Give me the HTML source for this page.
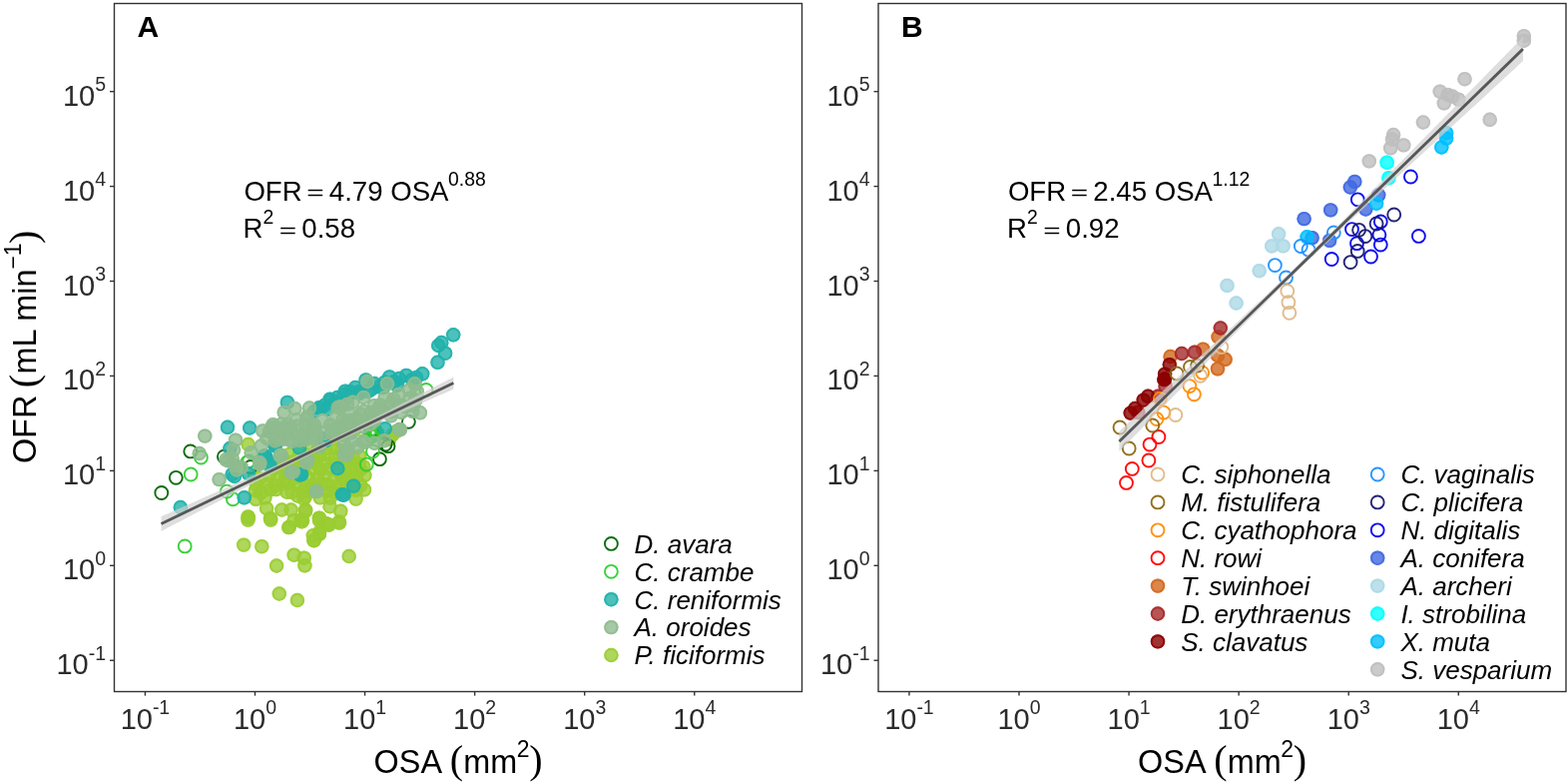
<!DOCTYPE html>
<html><head><meta charset="utf-8"><title>OFR vs OSA</title>
<style>
html,body{margin:0;padding:0;background:#fff;}
body{width:1571px;height:784px;overflow:hidden;position:relative;}
svg{position:absolute;left:0;top:0;}
text{font-family:"Liberation Sans",Arial,sans-serif;}
text.ser{font-family:"Liberation Serif","Times New Roman",serif;}
</style></head><body>
<svg width="1571" height="784" viewBox="0 0 1571 784">
<rect x="0" y="0" width="1571" height="784" fill="#fff"/>
<defs>
<g id="dava"><circle r="6.45" fill="none" stroke="#006400" stroke-width="1.9" stroke-opacity="0.95"/></g>
<g id="cram"><circle r="6.45" fill="none" stroke="#32CD32" stroke-width="1.9" stroke-opacity="0.95"/></g>
<g id="reni"><circle r="7.2" fill="#20B2AA" fill-opacity="0.8"/><circle r="6.2" fill="none" stroke="#20B2AA" stroke-width="2" stroke-opacity="0.8"/></g>
<g id="oroi"><circle r="7.2" fill="#8FBC8F" fill-opacity="0.8"/><circle r="6.2" fill="none" stroke="#8FBC8F" stroke-width="2" stroke-opacity="0.8"/></g>
<g id="fici"><circle r="7.2" fill="#9ACD32" fill-opacity="0.8"/><circle r="6.2" fill="none" stroke="#9ACD32" stroke-width="2" stroke-opacity="0.8"/></g>
<g id="siph"><circle r="6.45" fill="none" stroke="#DEB887" stroke-width="1.9" stroke-opacity="0.95"/></g>
<g id="fist"><circle r="6.45" fill="none" stroke="#8B6914" stroke-width="1.9" stroke-opacity="0.95"/></g>
<g id="cyat"><circle r="6.45" fill="none" stroke="#FF8C00" stroke-width="1.9" stroke-opacity="0.95"/></g>
<g id="rowi"><circle r="6.45" fill="none" stroke="#FF0000" stroke-width="1.9" stroke-opacity="0.95"/></g>
<g id="swin"><circle r="7.2" fill="#D2691E" fill-opacity="0.8"/><circle r="6.2" fill="none" stroke="#D2691E" stroke-width="2" stroke-opacity="0.8"/></g>
<g id="eryt"><circle r="7.2" fill="#A52A2A" fill-opacity="0.8"/><circle r="6.2" fill="none" stroke="#A52A2A" stroke-width="2" stroke-opacity="0.8"/></g>
<g id="clav"><circle r="7.2" fill="#8B0000" fill-opacity="0.8"/><circle r="6.2" fill="none" stroke="#8B0000" stroke-width="2" stroke-opacity="0.8"/></g>
<g id="vagi"><circle r="6.45" fill="none" stroke="#1E90FF" stroke-width="1.9" stroke-opacity="0.95"/></g>
<g id="plic"><circle r="6.45" fill="none" stroke="#191970" stroke-width="1.9" stroke-opacity="0.95"/></g>
<g id="digi"><circle r="6.45" fill="none" stroke="#0000EE" stroke-width="1.9" stroke-opacity="0.95"/></g>
<g id="coni"><circle r="7.2" fill="#4169E1" fill-opacity="0.8"/><circle r="6.2" fill="none" stroke="#4169E1" stroke-width="2" stroke-opacity="0.8"/></g>
<g id="arch"><circle r="7.2" fill="#ADD8E6" fill-opacity="0.8"/><circle r="6.2" fill="none" stroke="#ADD8E6" stroke-width="2" stroke-opacity="0.8"/></g>
<g id="stro"><circle r="7.2" fill="#00FFFF" fill-opacity="0.8"/><circle r="6.2" fill="none" stroke="#00FFFF" stroke-width="2" stroke-opacity="0.8"/></g>
<g id="muta"><circle r="7.2" fill="#00BFFF" fill-opacity="0.8"/><circle r="6.2" fill="none" stroke="#00BFFF" stroke-width="2" stroke-opacity="0.8"/></g>
<g id="vesp"><circle r="7.2" fill="#BEBEBE" fill-opacity="0.8"/><circle r="6.2" fill="none" stroke="#BEBEBE" stroke-width="2" stroke-opacity="0.8"/></g>
</defs>
<rect x="114.5" y="3.5" width="689" height="689" fill="none" stroke="#333" stroke-width="1.4"/>
<line x1="110" x2="114.5" y1="91.65" y2="91.65" stroke="#333" stroke-width="1.4"/>
<text x="95.15" y="105.65" font-size="29.0" text-anchor="end" fill="#2b2b2b">10</text>
<text x="95.15" y="91.45" font-size="19.5" fill="#2b2b2b">5</text>
<line x1="110" x2="114.5" y1="186.58" y2="186.58" stroke="#333" stroke-width="1.4"/>
<text x="95.15" y="200.58" font-size="29.0" text-anchor="end" fill="#2b2b2b">10</text>
<text x="95.15" y="186.38" font-size="19.5" fill="#2b2b2b">4</text>
<line x1="110" x2="114.5" y1="281.51" y2="281.51" stroke="#333" stroke-width="1.4"/>
<text x="95.15" y="295.51" font-size="29.0" text-anchor="end" fill="#2b2b2b">10</text>
<text x="95.15" y="281.31" font-size="19.5" fill="#2b2b2b">3</text>
<line x1="110" x2="114.5" y1="376.44" y2="376.44" stroke="#333" stroke-width="1.4"/>
<text x="95.15" y="390.44" font-size="29.0" text-anchor="end" fill="#2b2b2b">10</text>
<text x="95.15" y="376.24" font-size="19.5" fill="#2b2b2b">2</text>
<line x1="110" x2="114.5" y1="471.37" y2="471.37" stroke="#333" stroke-width="1.4"/>
<text x="95.15" y="485.37" font-size="29.0" text-anchor="end" fill="#2b2b2b">10</text>
<text x="95.15" y="471.17" font-size="19.5" fill="#2b2b2b">1</text>
<line x1="110" x2="114.5" y1="566.30" y2="566.30" stroke="#333" stroke-width="1.4"/>
<text x="95.15" y="580.30" font-size="29.0" text-anchor="end" fill="#2b2b2b">10</text>
<text x="95.15" y="566.10" font-size="19.5" fill="#2b2b2b">0</text>
<line x1="110" x2="114.5" y1="661.23" y2="661.23" stroke="#333" stroke-width="1.4"/>
<text x="88.66" y="675.23" font-size="29.0" text-anchor="end" fill="#2b2b2b">10</text>
<text x="88.66" y="661.03" font-size="19.5" fill="#2b2b2b">-1</text>
<line x1="145.43" x2="145.43" y1="692.5" y2="696.6" stroke="#333" stroke-width="1.4"/>
<text x="120.63" y="729.5" font-size="29.0" fill="#2b2b2b">10</text>
<text x="152.89" y="715.30" font-size="19.5" fill="#2b2b2b">-1</text>
<line x1="255.50" x2="255.50" y1="692.5" y2="696.6" stroke="#333" stroke-width="1.4"/>
<text x="233.95" y="729.5" font-size="29.0" fill="#2b2b2b">10</text>
<text x="266.21" y="715.30" font-size="19.5" fill="#2b2b2b">0</text>
<line x1="365.57" x2="365.57" y1="692.5" y2="696.6" stroke="#333" stroke-width="1.4"/>
<text x="344.02" y="729.5" font-size="29.0" fill="#2b2b2b">10</text>
<text x="376.28" y="715.30" font-size="19.5" fill="#2b2b2b">1</text>
<line x1="475.64" x2="475.64" y1="692.5" y2="696.6" stroke="#333" stroke-width="1.4"/>
<text x="454.09" y="729.5" font-size="29.0" fill="#2b2b2b">10</text>
<text x="486.35" y="715.30" font-size="19.5" fill="#2b2b2b">2</text>
<line x1="585.71" x2="585.71" y1="692.5" y2="696.6" stroke="#333" stroke-width="1.4"/>
<text x="564.16" y="729.5" font-size="29.0" fill="#2b2b2b">10</text>
<text x="596.42" y="715.30" font-size="19.5" fill="#2b2b2b">3</text>
<line x1="695.78" x2="695.78" y1="692.5" y2="696.6" stroke="#333" stroke-width="1.4"/>
<text x="674.23" y="729.5" font-size="29.0" fill="#2b2b2b">10</text>
<text x="706.49" y="715.30" font-size="19.5" fill="#2b2b2b">4</text>
<text x="137.6" y="37" font-size="30" font-weight="bold" fill="#000">A</text>
<rect x="880.0" y="3.5" width="689" height="689" fill="none" stroke="#333" stroke-width="1.4"/>
<line x1="875.5" x2="880.0" y1="91.65" y2="91.65" stroke="#333" stroke-width="1.4"/>
<text x="860.65" y="105.65" font-size="29.0" text-anchor="end" fill="#2b2b2b">10</text>
<text x="860.65" y="91.45" font-size="19.5" fill="#2b2b2b">5</text>
<line x1="875.5" x2="880.0" y1="186.58" y2="186.58" stroke="#333" stroke-width="1.4"/>
<text x="860.65" y="200.58" font-size="29.0" text-anchor="end" fill="#2b2b2b">10</text>
<text x="860.65" y="186.38" font-size="19.5" fill="#2b2b2b">4</text>
<line x1="875.5" x2="880.0" y1="281.51" y2="281.51" stroke="#333" stroke-width="1.4"/>
<text x="860.65" y="295.51" font-size="29.0" text-anchor="end" fill="#2b2b2b">10</text>
<text x="860.65" y="281.31" font-size="19.5" fill="#2b2b2b">3</text>
<line x1="875.5" x2="880.0" y1="376.44" y2="376.44" stroke="#333" stroke-width="1.4"/>
<text x="860.65" y="390.44" font-size="29.0" text-anchor="end" fill="#2b2b2b">10</text>
<text x="860.65" y="376.24" font-size="19.5" fill="#2b2b2b">2</text>
<line x1="875.5" x2="880.0" y1="471.37" y2="471.37" stroke="#333" stroke-width="1.4"/>
<text x="860.65" y="485.37" font-size="29.0" text-anchor="end" fill="#2b2b2b">10</text>
<text x="860.65" y="471.17" font-size="19.5" fill="#2b2b2b">1</text>
<line x1="875.5" x2="880.0" y1="566.30" y2="566.30" stroke="#333" stroke-width="1.4"/>
<text x="860.65" y="580.30" font-size="29.0" text-anchor="end" fill="#2b2b2b">10</text>
<text x="860.65" y="566.10" font-size="19.5" fill="#2b2b2b">0</text>
<line x1="875.5" x2="880.0" y1="661.23" y2="661.23" stroke="#333" stroke-width="1.4"/>
<text x="854.16" y="675.23" font-size="29.0" text-anchor="end" fill="#2b2b2b">10</text>
<text x="854.16" y="661.03" font-size="19.5" fill="#2b2b2b">-1</text>
<line x1="910.93" x2="910.93" y1="692.5" y2="696.6" stroke="#333" stroke-width="1.4"/>
<text x="886.13" y="729.5" font-size="29.0" fill="#2b2b2b">10</text>
<text x="918.39" y="715.30" font-size="19.5" fill="#2b2b2b">-1</text>
<line x1="1021.00" x2="1021.00" y1="692.5" y2="696.6" stroke="#333" stroke-width="1.4"/>
<text x="999.45" y="729.5" font-size="29.0" fill="#2b2b2b">10</text>
<text x="1031.71" y="715.30" font-size="19.5" fill="#2b2b2b">0</text>
<line x1="1131.07" x2="1131.07" y1="692.5" y2="696.6" stroke="#333" stroke-width="1.4"/>
<text x="1109.52" y="729.5" font-size="29.0" fill="#2b2b2b">10</text>
<text x="1141.78" y="715.30" font-size="19.5" fill="#2b2b2b">1</text>
<line x1="1241.14" x2="1241.14" y1="692.5" y2="696.6" stroke="#333" stroke-width="1.4"/>
<text x="1219.59" y="729.5" font-size="29.0" fill="#2b2b2b">10</text>
<text x="1251.85" y="715.30" font-size="19.5" fill="#2b2b2b">2</text>
<line x1="1351.21" x2="1351.21" y1="692.5" y2="696.6" stroke="#333" stroke-width="1.4"/>
<text x="1329.66" y="729.5" font-size="29.0" fill="#2b2b2b">10</text>
<text x="1361.92" y="715.30" font-size="19.5" fill="#2b2b2b">3</text>
<line x1="1461.28" x2="1461.28" y1="692.5" y2="696.6" stroke="#333" stroke-width="1.4"/>
<text x="1439.73" y="729.5" font-size="29.0" fill="#2b2b2b">10</text>
<text x="1471.99" y="715.30" font-size="19.5" fill="#2b2b2b">4</text>
<text x="903.1" y="37" font-size="30" font-weight="bold" fill="#000">B</text>
<text x="374.60" y="773.9" font-size="32.4" fill="#000">OSA</text>
<text x="450.80" y="773.6" font-size="40" class="ser" fill="#000">(</text>
<text x="464.20" y="773.9" font-size="32.4" fill="#000">mm</text>
<text x="517.80" y="758" font-size="23" fill="#000">2</text>
<text x="530.30" y="773.6" font-size="40" class="ser" fill="#000">)</text>
<text x="1140.10" y="773.9" font-size="32.4" fill="#000">OSA</text>
<text x="1216.30" y="773.6" font-size="40" class="ser" fill="#000">(</text>
<text x="1229.70" y="773.9" font-size="32.4" fill="#000">mm</text>
<text x="1283.30" y="758" font-size="23" fill="#000">2</text>
<text x="1295.80" y="773.6" font-size="40" class="ser" fill="#000">)</text>
<g transform="translate(36.3,464.1) rotate(-90)">
<text x="0" y="0" font-size="32.4" fill="#000">OFR</text>
<text x="75.8" y="0.6" font-size="40" class="ser" fill="#000">(</text>
<text x="89.6" y="0" font-size="32.4" fill="#000">mL min</text>
<text x="194.5" y="-15.7" font-size="23" fill="#000">−1</text>
<text x="220.1" y="0.6" font-size="40" class="ser" fill="#000">)</text>
</g>
<text x="244.40" y="200.5" font-size="27.6" fill="#000">OFR</text>
<text transform="translate(307.30,200.0) scale(1.08,0.74)" x="0" y="0" font-size="27.6" fill="#000">=</text>
<text x="329.80" y="200.5" font-size="27.6" fill="#000">4.79 OSA</text>
<text x="449.00" y="186.3" font-size="19.4" fill="#000">0.88</text>
<text x="243.40" y="238.0" font-size="27.6" fill="#000">R</text>
<text x="263.60" y="224.2" font-size="19.4" fill="#000">2</text>
<text transform="translate(279.70,237.5) scale(1.08,0.74)" x="0" y="0" font-size="27.6" fill="#000">=</text>
<text x="302.30" y="238.0" font-size="27.6" fill="#000">0.58</text>
<text x="1009.90" y="200.5" font-size="27.6" fill="#000">OFR</text>
<text transform="translate(1072.80,200.0) scale(1.08,0.74)" x="0" y="0" font-size="27.6" fill="#000">=</text>
<text x="1095.30" y="200.5" font-size="27.6" fill="#000">2.45 OSA</text>
<text x="1214.50" y="186.3" font-size="19.4" fill="#000">1.12</text>
<text x="1008.90" y="238.0" font-size="27.6" fill="#000">R</text>
<text x="1029.10" y="224.2" font-size="19.4" fill="#000">2</text>
<text transform="translate(1045.20,237.5) scale(1.08,0.74)" x="0" y="0" font-size="27.6" fill="#000">=</text>
<text x="1067.80" y="238.0" font-size="27.6" fill="#000">0.92</text>
<use href="#fici" x="318.1" y="451.4"/>
<use href="#fici" x="326.9" y="449.1"/>
<use href="#fici" x="335.9" y="448.4"/>
<use href="#fici" x="341.7" y="451.0"/>
<use href="#fici" x="348.6" y="449.9"/>
<use href="#fici" x="298.6" y="458.8"/>
<use href="#fici" x="307.3" y="456.0"/>
<use href="#fici" x="313.5" y="457.5"/>
<use href="#fici" x="320.1" y="456.7"/>
<use href="#fici" x="328.7" y="455.3"/>
<use href="#fici" x="336.2" y="457.9"/>
<use href="#fici" x="344.5" y="455.8"/>
<use href="#fici" x="353.6" y="458.3"/>
<use href="#fici" x="360.3" y="456.7"/>
<use href="#fici" x="277.4" y="465.3"/>
<use href="#fici" x="287.8" y="462.4"/>
<use href="#fici" x="292.7" y="462.7"/>
<use href="#fici" x="300.9" y="463.7"/>
<use href="#fici" x="310.4" y="462.8"/>
<use href="#fici" x="316.0" y="463.5"/>
<use href="#fici" x="325.5" y="464.0"/>
<use href="#fici" x="335.8" y="464.5"/>
<use href="#fici" x="342.1" y="464.3"/>
<use href="#fici" x="350.7" y="462.0"/>
<use href="#fici" x="359.6" y="464.9"/>
<use href="#fici" x="272.8" y="469.4"/>
<use href="#fici" x="281.4" y="468.9"/>
<use href="#fici" x="288.0" y="469.3"/>
<use href="#fici" x="296.4" y="470.2"/>
<use href="#fici" x="304.1" y="472.2"/>
<use href="#fici" x="314.5" y="469.3"/>
<use href="#fici" x="321.0" y="470.1"/>
<use href="#fici" x="329.5" y="469.2"/>
<use href="#fici" x="339.4" y="472.7"/>
<use href="#fici" x="345.9" y="470.6"/>
<use href="#fici" x="352.3" y="469.1"/>
<use href="#fici" x="361.4" y="469.8"/>
<use href="#fici" x="255.3" y="476.3"/>
<use href="#fici" x="260.1" y="479.4"/>
<use href="#fici" x="270.1" y="476.2"/>
<use href="#fici" x="278.2" y="475.7"/>
<use href="#fici" x="286.1" y="479.6"/>
<use href="#fici" x="295.5" y="478.4"/>
<use href="#fici" x="301.0" y="477.1"/>
<use href="#fici" x="308.7" y="478.7"/>
<use href="#fici" x="318.1" y="478.8"/>
<use href="#fici" x="325.3" y="476.5"/>
<use href="#fici" x="335.2" y="479.6"/>
<use href="#fici" x="343.4" y="478.9"/>
<use href="#fici" x="351.3" y="478.6"/>
<use href="#fici" x="356.9" y="477.7"/>
<use href="#fici" x="365.4" y="475.8"/>
<use href="#fici" x="257.0" y="485.3"/>
<use href="#fici" x="267.8" y="484.4"/>
<use href="#fici" x="275.7" y="486.5"/>
<use href="#fici" x="283.8" y="484.0"/>
<use href="#fici" x="288.9" y="483.5"/>
<use href="#fici" x="296.8" y="483.4"/>
<use href="#fici" x="306.5" y="486.2"/>
<use href="#fici" x="315.4" y="484.5"/>
<use href="#fici" x="322.6" y="485.8"/>
<use href="#fici" x="328.3" y="485.2"/>
<use href="#fici" x="339.6" y="485.7"/>
<use href="#fici" x="347.0" y="484.5"/>
<use href="#fici" x="352.7" y="485.7"/>
<use href="#fici" x="361.3" y="485.8"/>
<use href="#fici" x="255.9" y="491.1"/>
<use href="#fici" x="261.6" y="493.3"/>
<use href="#fici" x="270.9" y="490.2"/>
<use href="#fici" x="276.5" y="490.1"/>
<use href="#fici" x="287.6" y="492.7"/>
<use href="#fici" x="292.6" y="492.8"/>
<use href="#fici" x="303.9" y="492.1"/>
<use href="#fici" x="309.4" y="491.7"/>
<use href="#fici" x="316.5" y="489.6"/>
<use href="#fici" x="327.9" y="492.1"/>
<use href="#fici" x="334.1" y="493.2"/>
<use href="#fici" x="341.7" y="493.0"/>
<use href="#fici" x="351.3" y="490.3"/>
<use href="#fici" x="357.0" y="490.7"/>
<use href="#fici" x="265.4" y="498.3"/>
<use href="#fici" x="298.1" y="496.5"/>
<use href="#fici" x="305.8" y="497.2"/>
<use href="#fici" x="320.7" y="498.3"/>
<use href="#fici" x="330.9" y="498.6"/>
<use href="#fici" x="248.7" y="445.0"/>
<use href="#fici" x="248.6" y="517.4"/>
<use href="#fici" x="248.8" y="518.5"/>
<use href="#fici" x="244.2" y="545.6"/>
<use href="#fici" x="262.3" y="547.2"/>
<use href="#fici" x="277.1" y="566.5"/>
<use href="#fici" x="294.6" y="555.7"/>
<use href="#fici" x="304.7" y="558.7"/>
<use href="#fici" x="305.4" y="566.3"/>
<use href="#fici" x="314.6" y="541.1"/>
<use href="#fici" x="319.9" y="535.0"/>
<use href="#fici" x="289.3" y="528.1"/>
<use href="#fici" x="270.9" y="518.9"/>
<use href="#fici" x="301.5" y="520.4"/>
<use href="#fici" x="306.1" y="510.5"/>
<use href="#fici" x="291.6" y="510.5"/>
<use href="#fici" x="282.4" y="510.5"/>
<use href="#fici" x="267.1" y="509.0"/>
<use href="#fici" x="319.9" y="518.9"/>
<use href="#fici" x="326.8" y="524.3"/>
<use href="#fici" x="256.4" y="499.8"/>
<use href="#fici" x="248.5" y="520.6"/>
<use href="#fici" x="271.3" y="520.6"/>
<use href="#fici" x="289.7" y="527.9"/>
<use href="#fici" x="294.5" y="521.2"/>
<use href="#fici" x="302.4" y="522.4"/>
<use href="#fici" x="320.0" y="521.2"/>
<use href="#fici" x="329.7" y="525.5"/>
<use href="#fici" x="340.0" y="523.6"/>
<use href="#fici" x="320.0" y="534.5"/>
<use href="#fici" x="314.5" y="541.2"/>
<use href="#fici" x="349.7" y="557.0"/>
<use href="#fici" x="279.8" y="594.5"/>
<use href="#fici" x="297.9" y="601.0"/>
<use href="#fici" x="393.3" y="435.3"/>
<use href="#fici" x="364.3" y="467.4"/>
<use href="#fici" x="365.0" y="490.4"/>
<use href="#fici" x="356.6" y="499.6"/>
<use href="#fici" x="341.3" y="511.8"/>
<use href="#fici" x="339.8" y="522.5"/>
<use href="#fici" x="329.1" y="525.6"/>
<use href="#fici" x="319.9" y="518.7"/>
<use href="#fici" x="319.9" y="533.2"/>
<use href="#fici" x="306.1" y="511.8"/>
<use href="#fici" x="303.1" y="521.0"/>
<use href="#fici" x="313.8" y="536.3"/>
<use href="#fici" x="330.6" y="507.2"/>
<use href="#fici" x="304.6" y="499.6"/>
<use href="#fici" x="353.6" y="478.1"/>
<use href="#fici" x="350.5" y="465.9"/>
<use href="#fici" x="397.0" y="432.0"/>
<use href="#fici" x="390.0" y="440.0"/>
<use href="#fici" x="290.0" y="455.0"/>
<use href="#fici" x="300.0" y="451.0"/>
<use href="#fici" x="312.0" y="447.0"/>
<use href="#fici" x="322.0" y="444.0"/>
<use href="#fici" x="333.0" y="440.0"/>
<use href="#fici" x="345.0" y="436.0"/>
<use href="#fici" x="355.0" y="431.0"/>
<use href="#fici" x="283.0" y="460.0"/>
<use href="#dava" x="161.8" y="493.5"/>
<use href="#dava" x="176.3" y="478.3"/>
<use href="#dava" x="190.8" y="451.9"/>
<use href="#dava" x="224.4" y="457.2"/>
<use href="#dava" x="409.4" y="422.3"/>
<use href="#dava" x="380.4" y="459.7"/>
<use href="#dava" x="389.0" y="446.7"/>
<use href="#dava" x="386.0" y="445.0"/>
<use href="#dava" x="372.0" y="432.0"/>
<use href="#dava" x="376.0" y="434.0"/>
<use href="#dava" x="374.0" y="430.0"/>
<use href="#dava" x="376.0" y="432.0"/>
<use href="#dava" x="251.0" y="467.4"/>
<use href="#cram" x="191.2" y="475.0"/>
<use href="#cram" x="201.4" y="458.0"/>
<use href="#cram" x="185.2" y="546.9"/>
<use href="#cram" x="227.3" y="492.1"/>
<use href="#cram" x="233.4" y="499.8"/>
<use href="#cram" x="249.5" y="461.8"/>
<use href="#cram" x="247.9" y="462.8"/>
<use href="#cram" x="367.3" y="465.1"/>
<use href="#cram" x="373.5" y="452.1"/>
<use href="#cram" x="427.0" y="390.4"/>
<use href="#cram" x="372.0" y="437.0"/>
<use href="#cram" x="378.0" y="434.0"/>
<use href="#cram" x="368.0" y="440.0"/>
<use href="#cram" x="371.0" y="430.0"/>
<use href="#cram" x="374.0" y="433.0"/>
<use href="#cram" x="376.0" y="431.0"/>
<use href="#cram" x="373.0" y="436.0"/>
<use href="#cram" x="377.0" y="435.0"/>
<use href="#reni" x="228.0" y="427.8"/>
<use href="#reni" x="250.2" y="428.5"/>
<use href="#reni" x="180.8" y="508.0"/>
<use href="#reni" x="244.7" y="498.3"/>
<use href="#reni" x="234.9" y="477.0"/>
<use href="#reni" x="249.0" y="474.3"/>
<use href="#reni" x="232.6" y="475.0"/>
<use href="#reni" x="230.3" y="449.0"/>
<use href="#reni" x="287.9" y="402.9"/>
<use href="#reni" x="319.5" y="408.3"/>
<use href="#reni" x="300.4" y="475.5"/>
<use href="#reni" x="266.3" y="457.2"/>
<use href="#reni" x="275.5" y="446.5"/>
<use href="#reni" x="276.2" y="445.2"/>
<use href="#reni" x="264.7" y="456.7"/>
<use href="#reni" x="270.1" y="462.8"/>
<use href="#reni" x="270.4" y="465.7"/>
<use href="#reni" x="265.3" y="456.5"/>
<use href="#reni" x="300.0" y="448.4"/>
<use href="#reni" x="324.5" y="439.2"/>
<use href="#reni" x="338.3" y="469.0"/>
<use href="#reni" x="354.3" y="486.6"/>
<use href="#reni" x="344.4" y="495.7"/>
<use href="#reni" x="301.5" y="475.1"/>
<use href="#reni" x="326.0" y="441.4"/>
<use href="#reni" x="302.0" y="474.9"/>
<use href="#reni" x="342.9" y="495.3"/>
<use href="#reni" x="385.8" y="429.2"/>
<use href="#reni" x="454.2" y="335.3"/>
<use href="#reni" x="442.3" y="343.0"/>
<use href="#reni" x="439.2" y="346.0"/>
<use href="#reni" x="446.1" y="353.7"/>
<use href="#reni" x="438.5" y="362.8"/>
<use href="#reni" x="423.2" y="374.3"/>
<use href="#reni" x="407.1" y="375.9"/>
<use href="#reni" x="390.3" y="377.4"/>
<use href="#reni" x="385.7" y="382.7"/>
<use href="#reni" x="366.6" y="380.4"/>
<use href="#reni" x="368.9" y="391.9"/>
<use href="#reni" x="350.5" y="391.9"/>
<use href="#reni" x="344.4" y="395.0"/>
<use href="#reni" x="330.6" y="399.6"/>
<use href="#reni" x="321.4" y="408.8"/>
<use href="#reni" x="331.6" y="400.8"/>
<use href="#reni" x="345.9" y="391.6"/>
<use href="#reni" x="397.9" y="385.8"/>
<use href="#reni" x="379.6" y="387.3"/>
<use href="#reni" x="356.0" y="388.0"/>
<use href="#reni" x="375.0" y="384.0"/>
<use href="#reni" x="400.0" y="379.0"/>
<use href="#reni" x="413.0" y="380.0"/>
<use href="#reni" x="338.0" y="398.0"/>
<use href="#reni" x="395.0" y="382.0"/>
<use href="#reni" x="360.0" y="392.0"/>
<use href="#reni" x="417.0" y="378.0"/>
<use href="#reni" x="315.0" y="412.0"/>
<use href="#reni" x="325.0" y="406.0"/>
<use href="#reni" x="336.0" y="403.0"/>
<use href="#reni" x="348.0" y="398.0"/>
<use href="#reni" x="360.0" y="394.0"/>
<use href="#reni" x="372.0" y="390.0"/>
<use href="#reni" x="384.0" y="388.0"/>
<use href="#reni" x="328.0" y="410.0"/>
<use href="#reni" x="342.0" y="405.0"/>
<use href="#oroi" x="394.3" y="399.7"/>
<use href="#oroi" x="410.8" y="398.6"/>
<use href="#oroi" x="416.3" y="400.7"/>
<use href="#oroi" x="374.9" y="406.1"/>
<use href="#oroi" x="380.8" y="405.8"/>
<use href="#oroi" x="391.7" y="404.3"/>
<use href="#oroi" x="399.3" y="405.6"/>
<use href="#oroi" x="406.0" y="407.2"/>
<use href="#oroi" x="413.6" y="405.9"/>
<use href="#oroi" x="361.1" y="414.6"/>
<use href="#oroi" x="371.9" y="413.0"/>
<use href="#oroi" x="377.0" y="414.6"/>
<use href="#oroi" x="385.2" y="412.2"/>
<use href="#oroi" x="392.0" y="412.3"/>
<use href="#oroi" x="401.9" y="412.8"/>
<use href="#oroi" x="343.6" y="420.2"/>
<use href="#oroi" x="350.9" y="421.0"/>
<use href="#oroi" x="356.6" y="419.8"/>
<use href="#oroi" x="366.0" y="421.1"/>
<use href="#oroi" x="375.2" y="421.0"/>
<use href="#oroi" x="274.5" y="427.4"/>
<use href="#oroi" x="282.0" y="424.7"/>
<use href="#oroi" x="291.2" y="427.6"/>
<use href="#oroi" x="298.0" y="426.8"/>
<use href="#oroi" x="306.6" y="424.9"/>
<use href="#oroi" x="314.9" y="425.6"/>
<use href="#oroi" x="330.9" y="425.5"/>
<use href="#oroi" x="339.0" y="428.5"/>
<use href="#oroi" x="346.0" y="426.2"/>
<use href="#oroi" x="353.9" y="427.4"/>
<use href="#oroi" x="363.1" y="427.1"/>
<use href="#oroi" x="370.6" y="424.9"/>
<use href="#oroi" x="269.9" y="432.0"/>
<use href="#oroi" x="279.6" y="432.4"/>
<use href="#oroi" x="287.9" y="435.3"/>
<use href="#oroi" x="292.1" y="433.4"/>
<use href="#oroi" x="303.3" y="435.4"/>
<use href="#oroi" x="309.8" y="432.6"/>
<use href="#oroi" x="316.8" y="435.4"/>
<use href="#oroi" x="324.8" y="433.9"/>
<use href="#oroi" x="332.6" y="433.7"/>
<use href="#oroi" x="343.8" y="432.1"/>
<use href="#oroi" x="351.3" y="433.6"/>
<use href="#oroi" x="267.4" y="439.0"/>
<use href="#oroi" x="275.7" y="441.3"/>
<use href="#oroi" x="283.6" y="439.7"/>
<use href="#oroi" x="289.5" y="440.1"/>
<use href="#oroi" x="300.0" y="440.9"/>
<use href="#oroi" x="305.4" y="440.2"/>
<use href="#oroi" x="313.1" y="438.7"/>
<use href="#oroi" x="205.3" y="436.6"/>
<use href="#oroi" x="199.7" y="454.0"/>
<use href="#oroi" x="219.6" y="480.1"/>
<use href="#oroi" x="236.0" y="440.7"/>
<use href="#oroi" x="234.1" y="450.6"/>
<use href="#oroi" x="232.6" y="459.0"/>
<use href="#oroi" x="228.8" y="461.3"/>
<use href="#oroi" x="235.7" y="465.9"/>
<use href="#oroi" x="237.2" y="470.5"/>
<use href="#oroi" x="226.5" y="460.3"/>
<use href="#oroi" x="241.8" y="467.9"/>
<use href="#oroi" x="251.7" y="453.2"/>
<use href="#oroi" x="260.1" y="463.6"/>
<use href="#oroi" x="284.7" y="412.9"/>
<use href="#oroi" x="295.4" y="409.0"/>
<use href="#oroi" x="310.0" y="408.5"/>
<use href="#oroi" x="338.8" y="408.0"/>
<use href="#oroi" x="348.0" y="404.9"/>
<use href="#oroi" x="263.3" y="431.4"/>
<use href="#oroi" x="273.5" y="425.3"/>
<use href="#oroi" x="288.8" y="425.3"/>
<use href="#oroi" x="272.4" y="428.1"/>
<use href="#oroi" x="284.7" y="428.1"/>
<use href="#oroi" x="296.9" y="420.5"/>
<use href="#oroi" x="307.6" y="417.4"/>
<use href="#oroi" x="261.7" y="446.5"/>
<use href="#oroi" x="260.2" y="463.3"/>
<use href="#oroi" x="281.6" y="455.7"/>
<use href="#oroi" x="292.3" y="441.9"/>
<use href="#oroi" x="303.0" y="434.3"/>
<use href="#oroi" x="315.3" y="428.1"/>
<use href="#oroi" x="293.8" y="472.5"/>
<use href="#oroi" x="307.6" y="461.8"/>
<use href="#oroi" x="278.5" y="438.9"/>
<use href="#oroi" x="368.1" y="382.0"/>
<use href="#oroi" x="388.0" y="384.3"/>
<use href="#oroi" x="415.5" y="384.3"/>
<use href="#oroi" x="417.8" y="391.9"/>
<use href="#oroi" x="410.2" y="390.4"/>
<use href="#oroi" x="399.5" y="395.0"/>
<use href="#oroi" x="385.7" y="398.0"/>
<use href="#oroi" x="364.3" y="398.0"/>
<use href="#oroi" x="353.6" y="402.6"/>
<use href="#oroi" x="341.3" y="407.2"/>
<use href="#oroi" x="420.9" y="413.3"/>
<use href="#oroi" x="413.2" y="411.8"/>
<use href="#oroi" x="401.0" y="430.2"/>
<use href="#oroi" x="379.6" y="410.3"/>
<use href="#oroi" x="364.3" y="411.8"/>
<use href="#oroi" x="350.5" y="414.9"/>
<use href="#oroi" x="336.7" y="417.9"/>
<use href="#oroi" x="323.0" y="421.0"/>
<use href="#oroi" x="307.7" y="419.5"/>
<use href="#oroi" x="315.3" y="431.7"/>
<use href="#oroi" x="333.7" y="430.2"/>
<use href="#oroi" x="350.5" y="427.1"/>
<use href="#oroi" x="373.5" y="419.5"/>
<use href="#oroi" x="391.8" y="416.4"/>
<use href="#oroi" x="400.2" y="430.0"/>
<use href="#oroi" x="364.5" y="443.0"/>
<use href="#oroi" x="375.2" y="443.7"/>
<use href="#oroi" x="385.1" y="441.2"/>
<use href="#oroi" x="346.8" y="456.0"/>
<use href="#oroi" x="316.8" y="492.0"/>
<use href="#oroi" x="307.7" y="461.3"/>
<use href="#oroi" x="319.9" y="447.5"/>
<use href="#oroi" x="291.6" y="473.0"/>
<use href="#oroi" x="306.9" y="463.1"/>
<use href="#oroi" x="316.8" y="492.1"/>
<use href="#oroi" x="292.3" y="472.9"/>
<use href="#oroi" x="260.2" y="464.7"/>
<use href="#oroi" x="308.2" y="460.6"/>
<use href="#oroi" x="280.6" y="456.5"/>
<use href="#oroi" x="344.9" y="455.5"/>
<use href="#oroi" x="345.0" y="445.0"/>
<use href="#oroi" x="352.0" y="442.0"/>
<use href="#oroi" x="358.0" y="448.0"/>
<use href="#oroi" x="348.0" y="450.0"/>
<use href="#oroi" x="364.0" y="442.0"/>
<path d="M161.5,517.1 L168.8,513.9 L176.1,510.7 L183.5,507.4 L190.8,504.2 L198.1,500.9 L205.4,497.7 L212.8,494.4 L220.1,491.2 L227.4,487.9 L234.7,484.7 L242.0,481.4 L249.4,478.1 L256.7,474.8 L264.0,471.5 L271.3,468.2 L278.7,464.9 L286.0,461.5 L293.3,458.1 L300.6,454.7 L307.9,451.3 L315.3,447.8 L322.6,444.3 L329.9,440.8 L337.2,437.2 L344.6,433.6 L351.9,430.0 L359.2,426.3 L366.5,422.6 L373.9,418.9 L381.2,415.2 L388.5,411.4 L395.8,407.7 L403.1,403.9 L410.5,400.1 L417.8,396.4 L425.1,392.6 L432.4,388.8 L439.8,385.0 L447.1,381.2 L454.4,377.4 L454.4,389.6 L447.1,392.9 L439.8,396.1 L432.4,399.4 L425.1,402.6 L417.8,405.9 L410.5,409.2 L403.1,412.4 L395.8,415.7 L388.5,419.0 L381.2,422.3 L373.9,425.6 L366.5,429.0 L359.2,432.3 L351.9,435.7 L344.6,439.1 L337.2,442.6 L329.9,446.0 L322.6,449.6 L315.3,453.1 L307.9,456.7 L300.6,460.3 L293.3,464.0 L286.0,467.6 L278.7,471.3 L271.3,475.0 L264.0,478.8 L256.7,482.5 L249.4,486.3 L242.0,490.1 L234.7,493.8 L227.4,497.6 L220.1,501.4 L212.8,505.2 L205.4,509.0 L198.1,512.8 L190.8,516.6 L183.5,520.4 L176.1,524.2 L168.8,528.0 L161.5,531.9 Z" fill="#D0D0D0" fill-opacity="0.7"/>
<line x1="161.5" y1="524.5" x2="454.4" y2="383.5" stroke="#575757" stroke-width="2.8"/>
<use href="#vesp" x="1526.8" y="36.1"/>
<use href="#vesp" x="1526.8" y="40.7"/>
<use href="#vesp" x="1467.5" y="79.2"/>
<use href="#vesp" x="1442.7" y="91.6"/>
<use href="#vesp" x="1450.6" y="95.0"/>
<use href="#vesp" x="1455.2" y="96.5"/>
<use href="#vesp" x="1461.3" y="99.6"/>
<use href="#vesp" x="1446.8" y="103.4"/>
<use href="#vesp" x="1492.7" y="119.8"/>
<use href="#vesp" x="1425.9" y="122.5"/>
<use href="#vesp" x="1396.1" y="135.0"/>
<use href="#vesp" x="1395.0" y="139.5"/>
<use href="#vesp" x="1406.3" y="145.4"/>
<use href="#vesp" x="1393.2" y="148.4"/>
<use href="#vesp" x="1371.8" y="161.4"/>
<use href="#arch" x="1281.1" y="234.3"/>
<use href="#arch" x="1274.3" y="246.4"/>
<use href="#arch" x="1285.6" y="246.4"/>
<use href="#arch" x="1261.7" y="271.2"/>
<use href="#arch" x="1229.5" y="285.9"/>
<use href="#arch" x="1238.6" y="303.5"/>
<use href="#coni" x="1357.3" y="181.9"/>
<use href="#coni" x="1352.8" y="187.5"/>
<use href="#coni" x="1333.2" y="210.4"/>
<use href="#coni" x="1306.6" y="219.1"/>
<use href="#coni" x="1314.6" y="238.1"/>
<use href="#coni" x="1332.1" y="240.9"/>
<use href="#coni" x="1368.3" y="209.5"/>
<use href="#coni" x="1381.2" y="195.3"/>
<use href="#muta" x="1309.6" y="237.3"/>
<use href="#muta" x="1379.1" y="203.7"/>
<use href="#muta" x="1449.1" y="133.2"/>
<use href="#muta" x="1449.1" y="138.6"/>
<use href="#muta" x="1444.3" y="147.5"/>
<use href="#stro" x="1389.6" y="162.7"/>
<use href="#stro" x="1391.4" y="178.2"/>
<use href="#swin" x="1172.6" y="357.0"/>
<use href="#swin" x="1205.3" y="349.6"/>
<use href="#swin" x="1220.0" y="355.9"/>
<use href="#swin" x="1227.6" y="359.8"/>
<use href="#swin" x="1220.0" y="369.3"/>
<use href="#swin" x="1220.6" y="337.4"/>
<use href="#eryt" x="1184.0" y="354.0"/>
<use href="#eryt" x="1197.0" y="352.7"/>
<use href="#eryt" x="1167.6" y="386.8"/>
<use href="#eryt" x="1160.2" y="396.8"/>
<use href="#eryt" x="1140.3" y="412.8"/>
<use href="#eryt" x="1222.8" y="328.5"/>
<use href="#clav" x="1132.7" y="413.6"/>
<use href="#clav" x="1137.2" y="409.0"/>
<use href="#clav" x="1145.7" y="400.6"/>
<use href="#clav" x="1150.2" y="396.8"/>
<use href="#clav" x="1166.3" y="380.0"/>
<use href="#clav" x="1167.1" y="374.6"/>
<use href="#clav" x="1171.8" y="365.1"/>
<use href="#clav" x="1167.0" y="379.5"/>
<use href="#digi" x="1360.3" y="199.8"/>
<use href="#digi" x="1354.5" y="229.6"/>
<use href="#digi" x="1359.5" y="243.7"/>
<use href="#digi" x="1334.2" y="259.5"/>
<use href="#digi" x="1373.5" y="257.0"/>
<use href="#digi" x="1383.3" y="221.9"/>
<use href="#digi" x="1381.9" y="235.2"/>
<use href="#digi" x="1383.3" y="245.1"/>
<use href="#digi" x="1413.4" y="177.0"/>
<use href="#digi" x="1421.4" y="236.4"/>
<use href="#plic" x="1361.6" y="230.3"/>
<use href="#plic" x="1367.9" y="236.6"/>
<use href="#plic" x="1360.2" y="251.4"/>
<use href="#plic" x="1353.1" y="262.6"/>
<use href="#plic" x="1379.1" y="224.0"/>
<use href="#plic" x="1396.7" y="215.0"/>
<use href="#vagi" x="1277.4" y="265.6"/>
<use href="#vagi" x="1288.5" y="278.0"/>
<use href="#vagi" x="1303.3" y="246.5"/>
<use href="#vagi" x="1311.0" y="250.0"/>
<use href="#vagi" x="1336.3" y="232.9"/>
<use href="#rowi" x="1160.9" y="437.5"/>
<use href="#rowi" x="1152.0" y="445.1"/>
<use href="#rowi" x="1150.9" y="461.0"/>
<use href="#rowi" x="1134.3" y="469.4"/>
<use href="#rowi" x="1128.5" y="483.4"/>
<use href="#cyat" x="1162.3" y="399.3"/>
<use href="#cyat" x="1165.9" y="413.1"/>
<use href="#cyat" x="1158.9" y="419.5"/>
<use href="#cyat" x="1204.7" y="373.2"/>
<use href="#cyat" x="1191.9" y="386.6"/>
<use href="#cyat" x="1196.4" y="394.8"/>
<use href="#fist" x="1122.0" y="428.0"/>
<use href="#fist" x="1131.2" y="449.0"/>
<use href="#fist" x="1154.8" y="426.0"/>
<use href="#fist" x="1179.0" y="374.0"/>
<use href="#fist" x="1192.5" y="367.4"/>
<use href="#fist" x="1199.6" y="366.1"/>
<use href="#siph" x="1177.8" y="415.5"/>
<use href="#siph" x="1202.7" y="376.3"/>
<use href="#siph" x="1223.8" y="347.6"/>
<use href="#siph" x="1289.8" y="291.5"/>
<use href="#siph" x="1290.9" y="302.7"/>
<use href="#siph" x="1291.9" y="313.3"/>
<path d="M1121.4,431.7 L1131.5,422.4 L1141.6,413.1 L1151.7,403.8 L1161.9,394.4 L1172.0,385.1 L1182.1,375.8 L1192.2,366.5 L1202.3,357.1 L1212.4,347.7 L1222.5,338.4 L1232.6,329.0 L1242.8,319.6 L1252.9,310.1 L1263.0,300.7 L1273.1,291.1 L1283.2,281.6 L1293.3,271.9 L1303.4,262.1 L1313.5,252.3 L1323.7,242.4 L1333.8,232.3 L1343.9,222.2 L1354.0,212.1 L1364.1,201.9 L1374.2,191.7 L1384.3,181.4 L1394.4,171.2 L1404.6,160.9 L1414.7,150.6 L1424.8,140.3 L1434.9,130.0 L1445.0,119.7 L1455.1,109.4 L1465.2,99.1 L1475.3,88.7 L1485.5,78.4 L1495.6,68.1 L1505.7,57.7 L1515.8,47.4 L1525.9,37.1 L1525.9,61.1 L1515.8,70.4 L1505.7,79.7 L1495.6,89.1 L1485.5,98.4 L1475.3,107.7 L1465.2,117.0 L1455.1,126.3 L1445.0,135.6 L1434.9,145.0 L1424.8,154.3 L1414.7,163.6 L1404.6,173.0 L1394.4,182.3 L1384.3,191.7 L1374.2,201.1 L1364.1,210.5 L1354.0,220.0 L1343.9,229.5 L1333.8,239.0 L1323.7,248.6 L1313.5,258.3 L1303.4,268.1 L1293.3,278.0 L1283.2,288.0 L1273.1,298.1 L1263.0,308.2 L1252.9,318.3 L1242.8,328.5 L1232.6,338.8 L1222.5,349.0 L1212.4,359.3 L1202.3,369.6 L1192.2,379.9 L1182.1,390.2 L1172.0,400.5 L1161.9,410.8 L1151.7,421.1 L1141.6,431.4 L1131.5,441.8 L1121.4,452.1 Z" fill="#D0D0D0" fill-opacity="0.7"/>
<line x1="1121.4" y1="441.9" x2="1525.9" y2="49.1" stroke="#575757" stroke-width="2.8"/>
<use href="#dava" x="612.4" y="544.4"/>
<text x="635.5" y="553.7" font-size="26" font-style="italic" fill="#000">D. avara</text>
<use href="#cram" x="612.4" y="572.3"/>
<text x="635.5" y="581.6" font-size="26" font-style="italic" fill="#000">C. crambe</text>
<use href="#reni" x="612.4" y="600.2"/>
<text x="635.5" y="609.5" font-size="26" font-style="italic" fill="#000">C. reniformis</text>
<use href="#oroi" x="612.4" y="628.1"/>
<text x="635.5" y="637.4" font-size="26" font-style="italic" fill="#000">A. oroides</text>
<use href="#fici" x="612.4" y="656.0"/>
<text x="635.5" y="665.3" font-size="26" font-style="italic" fill="#000">P. ficiformis</text>
<use href="#siph" x="1160.0" y="475.0"/>
<text x="1183.2" y="484.3" font-size="26" font-style="italic" fill="#000">C. siphonella</text>
<use href="#fist" x="1160.0" y="502.9"/>
<text x="1183.2" y="512.2" font-size="26" font-style="italic" fill="#000">M. fistulifera</text>
<use href="#cyat" x="1160.0" y="530.8"/>
<text x="1183.2" y="540.1" font-size="26" font-style="italic" fill="#000">C. cyathophora</text>
<use href="#rowi" x="1160.0" y="558.7"/>
<text x="1183.2" y="568.0" font-size="26" font-style="italic" fill="#000">N. rowi</text>
<use href="#swin" x="1160.0" y="586.6"/>
<text x="1183.2" y="595.9" font-size="26" font-style="italic" fill="#000">T. swinhoei</text>
<use href="#eryt" x="1160.0" y="614.5"/>
<text x="1183.2" y="623.8" font-size="26" font-style="italic" fill="#000">D. erythraenus</text>
<use href="#clav" x="1160.0" y="642.4"/>
<text x="1183.2" y="651.7" font-size="26" font-style="italic" fill="#000">S. clavatus</text>
<use href="#vagi" x="1380.2" y="475.0"/>
<text x="1403.4" y="484.3" font-size="26" font-style="italic" fill="#000">C. vaginalis</text>
<use href="#plic" x="1380.2" y="502.9"/>
<text x="1403.4" y="512.2" font-size="26" font-style="italic" fill="#000">C. plicifera</text>
<use href="#digi" x="1380.2" y="530.8"/>
<text x="1403.4" y="540.1" font-size="26" font-style="italic" fill="#000">N. digitalis</text>
<use href="#coni" x="1380.2" y="558.7"/>
<text x="1403.4" y="568.0" font-size="26" font-style="italic" fill="#000">A. conifera</text>
<use href="#arch" x="1380.2" y="586.6"/>
<text x="1403.4" y="595.9" font-size="26" font-style="italic" fill="#000">A. archeri</text>
<use href="#stro" x="1380.2" y="614.5"/>
<text x="1403.4" y="623.8" font-size="26" font-style="italic" fill="#000">I. strobilina</text>
<use href="#muta" x="1380.2" y="642.4"/>
<text x="1403.4" y="651.7" font-size="26" font-style="italic" fill="#000">X. muta</text>
<use href="#vesp" x="1380.2" y="670.3"/>
<text x="1403.4" y="679.6" font-size="26" font-style="italic" fill="#000">S. vesparium</text>
</svg>
</body></html>
